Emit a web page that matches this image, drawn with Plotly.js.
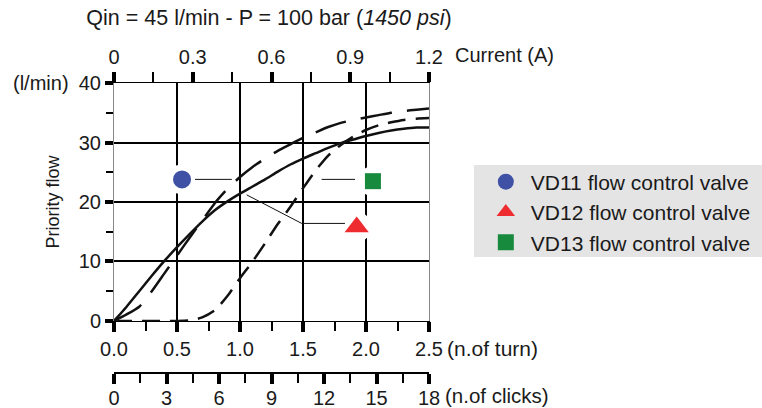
<!DOCTYPE html>
<html><head><meta charset="utf-8">
<script src="https://cdn.plot.ly/plotly-3.0.1.min.js"></script>
<style>html,body{margin:0;padding:0;background:#fff}</style>
</head><body><div id="chart" style="width:762px;height:408px"></div>
<script>
// ---- data ----
const turns = [0,0.1,0.2,0.3,0.4,0.5,0.6,0.7,0.8,0.9,1.0,1.1,1.2,1.3,1.4,1.5,1.6,1.7,1.8,1.9,2.0,2.1,2.2,2.3,2.4,2.5];
const vd11Flow = [0,1.1,2.4,5.0,8.0,11.0,14.0,16.9,19.8,22.2,24.2,25.9,27.3,28.6,29.7,30.8,31.7,32.6,33.3,33.8,34.2,34.6,35.0,35.3,35.5,35.7];
const vd12Flow = [0,2.4,5.0,7.6,10.1,12.4,14.6,16.7,18.6,20.1,21.4,22.6,23.8,25.1,26.3,27.3,28.2,29.1,29.9,30.5,31.1,31.6,32.0,32.3,32.5,32.5];
const vd13Flow = [0,0,0,0,0,0,0.1,0.6,1.8,4.2,7.2,10.0,13.1,16.3,19.2,22.3,25.3,27.8,29.6,31.0,32.1,32.9,33.4,33.8,34.0,34.1];
const seriesNames = ['VD11 flow control valve','VD12 flow control valve','VD13 flow control valve'];
const markerTurn = [0.54, 1.926, 2.055];
const markerFlow = [23.8, 15.8, 23.5];
const leader11Turn = [0.643, 0.935], leader11Flow = [23.8, 23.8];
const leader12Turn = [1.053, 1.49, 1.833], leader12Flow = [21.2, 16.4, 16.4];
const leader13Turn = [1.648, 1.913], leader13Flow = [23.8, 23.8];
const turnTicks = [0,0.5,1,1.5,2,2.5];
const turnLabels = ['0.0','0.5','1.0','1.5','2.0','2.5'];
const currentTicks = [0,0.3,0.6,0.9,1.2];
const currentLabels = ['0','0.3','0.6','0.9','1.2'];
const clickTicks = [0,3,6,9,12,15,18];
const flowTicks = [0,10,20,30,40];

const FONT = 'Liberation Sans, Arial, Helvetica, sans-serif';
const INK = '#111111';
const TXT = '#1a1a1a';
const colors = ['#3f51a5','#ee2b2f','#188a3e'];
const symbols = ['circle','triangle-up','square'];
const sizes = [18,21,16];

const traces = [];
// white halos behind the label markers
traces.push({x: markerTurn, y: markerFlow, type:'scatter', mode:'markers',
  marker:{symbol:'circle', size:30, color:'#ffffff'}, showlegend:false, hoverinfo:'skip'});
// leader lines
[[leader11Turn,leader11Flow],[leader12Turn,leader12Flow],[leader13Turn,leader13Flow]].forEach(([lx,ly])=>{
  traces.push({x:lx, y:ly, type:'scatter', mode:'lines', line:{color:INK, width:1},
    showlegend:false, hoverinfo:'skip'});
});
// curves
const curveDash = ['32px,15px','solid','18px,10px'];
[vd11Flow, vd12Flow, vd13Flow].forEach((f,i)=>{
  traces.push({x:turns, y:f, type:'scatter', mode:'lines', name:seriesNames[i],
    line:{color:INK, width:2.5, dash:curveDash[i], shape:'spline', smoothing:0.6},
    showlegend:false});
});
// label markers (legend entries)
seriesNames.forEach((n,i)=>{
  traces.push({x:[markerTurn[i]], y:[markerFlow[i]], type:'scatter', mode:'markers', name:n,
    marker:{symbol:symbols[i], size:sizes[i], color:colors[i]}, showlegend:true});
});
// empty carriers so the secondary scales (current, clicks) are drawn
traces.push({x:currentTicks, y:currentTicks.map(()=>null), xaxis:'x2', yaxis:'y', type:'scatter', mode:'markers',
  showlegend:false, hoverinfo:'skip'});
traces.push({x:clickTicks, y:clickTicks.map(()=>null), xaxis:'x3', yaxis:'y', type:'scatter', mode:'markers',
  showlegend:false, hoverinfo:'skip'});

const layout = {
  width:762, height:408,
  margin:{l:114, r:333, t:83, b:36, pad:0, autoexpand:false},
  paper_bgcolor:'#ffffff', plot_bgcolor:'#ffffff',
  font:{family:FONT, size:20, color:TXT},
  showlegend:true,
  title:{text:'Qin = 45 l/min - P = 100 bar (<i>1450 psi</i>)', font:{family:FONT, size:21.5, color:TXT},
    x:0.492, xref:'paper', xanchor:'center', y:0.956, yref:'container', yanchor:'middle'},
  xaxis:{range:[0,2.5], domain:[0,1], anchor:'y', tickvals:turnTicks, ticktext:turnLabels,
    ticks:'outside', ticklen:10, tickwidth:4, tickcolor:'#000',
    showgrid:true, gridcolor:'#000', gridwidth:2, zeroline:false,
    showline:true, linecolor:'#000', linewidth:1.5,
    minor:{tick0:0, dtick:0.25, ticks:'outside', ticklen:9, tickwidth:2, tickcolor:'#000', showgrid:false},
    fixedrange:true},
  yaxis:{range:[0,40], domain:[0.1765,1], tickvals:flowTicks,
    ticks:'outside', ticklen:8, tickwidth:4, tickcolor:'#000',
    showgrid:true, gridcolor:'#000', gridwidth:2, zeroline:false,
    showline:true, mirror:true, linecolor:'#888', linewidth:1,
    minor:{tick0:0, dtick:5, ticks:'outside', ticklen:7, tickwidth:2, tickcolor:'#000', showgrid:false},
    title:{text:'Priority flow', font:{family:FONT, size:18}, standoff:14},
    fixedrange:true},
  xaxis2:{overlaying:'x', side:'top', anchor:'y', range:[0,1.2], tickvals:currentTicks, ticktext:currentLabels,
    ticks:'outside', ticklen:10, tickwidth:4, tickcolor:'#000',
    showgrid:false, zeroline:false, showline:true, linecolor:'#000', linewidth:1.5,
    minor:{tick0:0, dtick:0.15, ticks:'outside', ticklen:10, tickwidth:2, tickcolor:'#000', showgrid:false},
    fixedrange:true},
  xaxis3:{overlaying:'x', anchor:'free', position:0, side:'bottom', range:[0,18], tickvals:clickTicks,
    ticks:'outside', ticklen:10, tickwidth:4, tickcolor:'#000', ticklabelstandoff:-3,
    showgrid:false, zeroline:false, showline:true, linecolor:'#000', linewidth:1.5,
    minor:{tick0:0, dtick:1.5, ticks:'outside', ticklen:9, tickwidth:2, tickcolor:'#000', showgrid:false},
    fixedrange:true},
  legend:{xref:'container', yref:'container', x:0.631, xanchor:'left', y:0.604, yanchor:'top',
    bgcolor:'rgba(0,0,0,0)', borderwidth:0,
    font:{family:FONT, size:21, color:TXT}, itemwidth:40},
  shapes:[{type:'rect', xref:'paper', yref:'paper', x0:1.1429, x1:2.06, y0:0.398, y1:0.716,
    fillcolor:'#e4e4e4', line:{width:0}, layer:'below'}],
  annotations:[
    {text:'(l/min)', xref:'paper', yref:'paper', x:-0.1365, y:1, xanchor:'right', yanchor:'middle', showarrow:false, font:{size:20}},
    {text:'Current (A)', xref:'paper', yref:'paper', x:1.076, y:1.097, xanchor:'left', yanchor:'middle', showarrow:false, font:{size:20}},
    {text:'(n.of turn)', xref:'paper', yref:'paper', x:1.05, y:0.083, xanchor:'left', yanchor:'middle', showarrow:false, font:{size:21}},
    {text:'(n.of clicks)', xref:'paper', yref:'paper', x:1.046, y:-0.08, xanchor:'left', yanchor:'middle', showarrow:false, font:{size:20.5}}
  ]
};
Plotly.newPlot('chart', traces, layout, {staticPlot:true, displayModeBar:false});
</script></body></html>
